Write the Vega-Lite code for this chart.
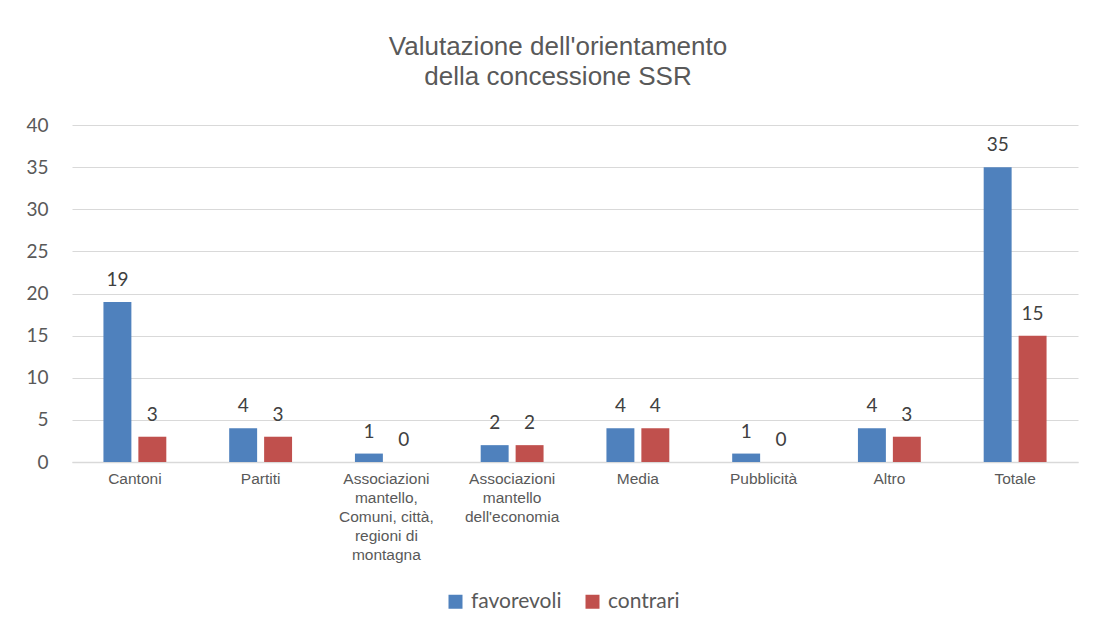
{
  "$schema": "https://vega.github.io/schema/vega-lite/v6.json",
  "autosize": {"type": "none"},
  "width": 1006,
  "height": 337,
  "padding": {"left": 72, "top": 125, "right": 16, "bottom": 172},
  "background": "white",
  "title": {
    "text": ["Valutazione dell'orientamento", "della concessione SSR"],
    "font": "Liberation Sans",
    "fontSize": 26,
    "fontWeight": "normal",
    "color": "#595959",
    "lineHeight": 30,
    "anchor": "middle",
    "dx": -17,
    "offset": 26
  },
  "data": {
    "values": [
      {"cat": "Cantoni", "serie": "favorevoli", "v": 19},
      {"cat": "Cantoni", "serie": "contrari", "v": 3},
      {"cat": "Partiti", "serie": "favorevoli", "v": 4},
      {"cat": "Partiti", "serie": "contrari", "v": 3},
      {"cat": "Associazioni|mantello,|Comuni, città,|regioni di|montagna", "serie": "favorevoli", "v": 1},
      {"cat": "Associazioni|mantello,|Comuni, città,|regioni di|montagna", "serie": "contrari", "v": 0},
      {"cat": "Associazioni|mantello|dell'economia", "serie": "favorevoli", "v": 2},
      {"cat": "Associazioni|mantello|dell'economia", "serie": "contrari", "v": 2},
      {"cat": "Media", "serie": "favorevoli", "v": 4},
      {"cat": "Media", "serie": "contrari", "v": 4},
      {"cat": "Pubblicità", "serie": "favorevoli", "v": 1},
      {"cat": "Pubblicità", "serie": "contrari", "v": 0},
      {"cat": "Altro", "serie": "favorevoli", "v": 4},
      {"cat": "Altro", "serie": "contrari", "v": 3},
      {"cat": "Totale", "serie": "favorevoli", "v": 35},
      {"cat": "Totale", "serie": "contrari", "v": 15}
    ]
  },
  "encoding": {
    "x": {
      "field": "cat",
      "type": "nominal",
      "sort": null,
      "title": null,
      "scale": {"paddingInner": 0.5, "paddingOuter": 0.25},
      "axis": {
        "labelAngle": 0,
        "labelExpr": "split(datum.label, '|')",
        "labelFont": "Liberation Sans",
        "labelFontSize": 15.5,
        "labelColor": "#595959",
        "labelLineHeight": 19,
        "labelPadding": 9,
        "ticks": false,
        "domainColor": "#D9D9D9",
        "domainWidth": 1.5,
        "labelLimit": 200
      }
    },
    "xOffset": {
      "field": "serie",
      "type": "nominal",
      "sort": ["favorevoli", "contrari"],
      "scale": {"paddingInner": 0.2}
    },
    "y": {
      "field": "v",
      "type": "quantitative",
      "title": null,
      "scale": {"domain": [0, 40]},
      "axis": {
        "values": [0, 5, 10, 15, 20, 25, 30, 35, 40],
        "domain": false,
        "ticks": false,
        "gridColor": "#D9D9D9",
        "gridWidth": 1.2,
        "labelFont": "Lato",
        "labelFontSize": 19,
        "labelColor": "#595959",
        "labelPadding": 24
      }
    },
    "color": {
      "field": "serie",
      "type": "nominal",
      "sort": ["favorevoli", "contrari"],
      "scale": {"domain": ["favorevoli", "contrari"], "range": ["#4F81BD", "#C0504D"]},
      "legend": {
        "orient": "none",
        "legendX": 373,
        "legendY": 466,
        "direction": "horizontal",
        "title": null,
        "symbolType": "square",
        "symbolSize": 196,
        "symbolStrokeWidth": 0,
        "labelFont": "Lato",
        "labelFontSize": 21,
        "labelColor": "#595959",
        "labelOffset": 5,
        "columnPadding": 20
      }
    }
  },
  "layer": [
    {"mark": {"type": "bar"}},
    {
      "mark": {"type": "text", "baseline": "bottom", "dy": -12, "font": "Lato", "fontSize": 19, "color": "#404040"},
      "encoding": {"text": {"field": "v", "type": "quantitative"}, "color": {"value": "#404040"}}
    }
  ],
  "config": {"view": {"stroke": null}}
}
